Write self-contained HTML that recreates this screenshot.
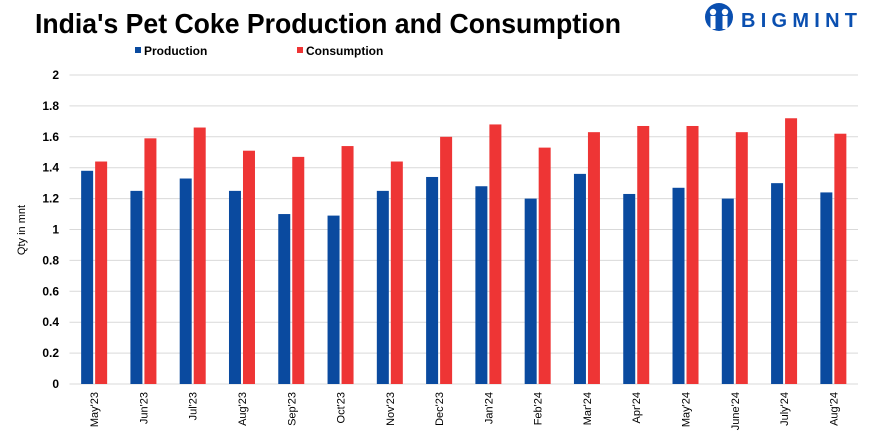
<!DOCTYPE html>
<html><head><meta charset="utf-8"><style>
html,body{margin:0;padding:0;background:#fff;}
svg{display:block;font-family:"Liberation Sans",Arial,sans-serif;}
</style></head><body>
<svg id="chart" width="870" height="436" viewBox="0 0 870 436">
<text x="35" y="33" font-size="28" font-weight="bold" fill="#000" textLength="586" lengthAdjust="spacingAndGlyphs">India's Pet Coke Production and Consumption</text>
<g>
  <circle cx="719" cy="17" r="14" fill="#0a4fb0"/>
  <circle cx="713" cy="12" r="3.2" fill="#fff"/>
  <circle cx="725" cy="12" r="3.2" fill="#fff"/>
  <rect x="710.5" y="16" width="5" height="13" fill="#fff"/>
  <rect x="722.5" y="16" width="5" height="13" fill="#fff"/>
  <text x="741" y="27" font-size="20" font-weight="bold" fill="#0a4fb0" textLength="116" lengthAdjust="spacing">BIGMINT</text>
</g>
<g>
  <rect x="135" y="47" width="6" height="6" fill="#0a4a9f"/>
  <text x="144" y="55" font-size="12" font-weight="bold" fill="#000">Production</text>
  <rect x="297" y="47" width="6" height="6" fill="#ee3535"/>
  <text x="306" y="55" font-size="12" font-weight="bold" fill="#000">Consumption</text>
</g>
<text transform="translate(25,230) rotate(-90)" text-anchor="middle" font-size="11" fill="#000">Qty in mnt</text>
<g id="grid"></g><g id="bars"></g><g id="labels"></g>
</svg>
<script>
const categories=["May'23","Jun'23","Jul'23","Aug'23","Sep'23","Oct'23","Nov'23","Dec'23","Jan'24","Feb'24","Mar'24","Apr'24","May'24","June'24","July'24","Aug'24"];
const production=[1.38,1.25,1.33,1.25,1.10,1.09,1.25,1.34,1.28,1.20,1.36,1.23,1.27,1.20,1.30,1.24];
const consumption=[1.44,1.59,1.66,1.51,1.47,1.54,1.44,1.60,1.68,1.53,1.63,1.67,1.67,1.63,1.72,1.62];
const yTicks=[0,0.2,0.4,0.6,0.8,1,1.2,1.4,1.6,1.8,2];
const NS="http://www.w3.org/2000/svg";
const x0=69.5,x1=858,yBase=384,yMax=2,yTop=75;
const bw=(x1-x0)/categories.length;
const y=v=>yBase-(v/yMax)*(yBase-yTop);
const xc=i=>x0+bw*(i+0.5);
function mk(tag,attrs,parent){const e=document.createElementNS(NS,tag);for(const k in attrs)e.setAttribute(k,attrs[k]);document.getElementById(parent).appendChild(e);return e;}
yTicks.forEach(t=>{
  const l=mk('line',{x1:x0,x2:x1,y1:y(t),y2:y(t),stroke:'#d9d9d9','stroke-width':1},'grid');
  
  
  const tx=mk('text',{x:59,y:y(t)+4,'text-anchor':'end','font-size':12,'font-weight':'bold',fill:'#000'},'labels');
  tx.textContent=String(t);
  
  
});
categories.forEach((c,i)=>{
  const cx=xc(i);
  const b1=mk('rect',{x:cx-13,y:y(production[i]),width:12,height:yBase-y(production[i]),fill:'#0a4a9f'},'bars');
  
  
  const b2=mk('rect',{x:cx+1,y:y(consumption[i]),width:12,height:yBase-y(consumption[i]),fill:'#ee3535'},'bars');
  
  
  const t=mk('text',{transform:`translate(${cx+4},392) rotate(-90)`,'text-anchor':'end','font-size':11,fill:'#000'},'labels');
  t.textContent=c;
  
  
});
</script>
</body></html>
